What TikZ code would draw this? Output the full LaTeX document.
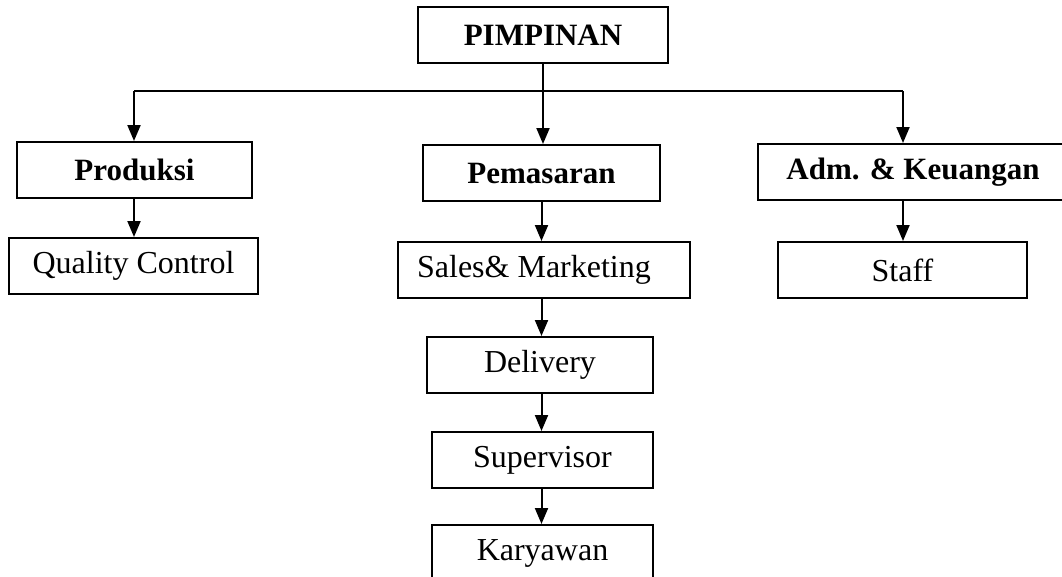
\documentclass[tikz,border=0pt]{standalone}
\usepackage{fontspec}
\setmainfont{Liberation Serif}
\usetikzlibrary{arrows.meta}

\begin{document}
\begin{tikzpicture}[x=1pt,y=-1pt]
    \path[use as bounding box, clip] (0,0) rectangle (1062,576);
    \begin{scope}[every node/.style={draw, line width=2pt, minimum height=56pt, inner sep=0pt, font=\fontsize{32}{38}\selectfont}]
                        \node[minimum width=250pt, font=\fontsize{31}{38}\selectfont\bfseries] (pimpinan) at (543,35) {PIMPINAN};
                        \node[minimum width=235pt, font=\fontsize{31}{38}\selectfont\bfseries] (produksi) at (134.5,170) {Produksi};
                        \node[minimum width=237pt, font=\fontsize{31}{38}\selectfont\bfseries] (pemasaran) at (541.5,173) {Pemasaran};
                        \node[minimum width=310pt, font=\fontsize{31}{38}\selectfont\bfseries] (adm) at (913,172) {Adm. \& Keuangan};
                        \node[minimum width=249pt] (qc) at (133.5,266) {\raisebox{6pt}{Quality Control}};
                        \node[minimum width=292pt] (sales) at (544,270) {\hspace{-20pt}Sales\& Marketing};
                        \node[minimum width=249pt] (staff) at (902.5,270) {Staff};
                        \node[minimum width=226pt] (delivery) at (540,365) {Delivery};
                        \node[minimum width=221pt] (supervisor) at (542.5,460) {Supervisor};
                        \node[minimum width=221pt] (karyawan) at (542.5,553) {Karyawan};
                        \coordinate (lft) at (134,91);
                        \coordinate (rgt) at (903,91);
                \end{scope}

                \begin{scope}[every path/.style={line width=2pt, -{Triangle[length=16pt,width=13pt]}}]
                        \path (pimpinan) edge (pimpinan |- pemasaran.north);
                        \path (lft) edge (lft |- produksi.north);
                        \path (rgt) edge (rgt |- adm.north);
                        \path (lft |- produksi.south) edge (lft |- qc.north);
                        \path (pemasaran) edge (pemasaran |- sales.north);
                        \path (rgt |- adm.south) edge (rgt |- staff.north);
                        \path (pemasaran |- sales.south) edge (pemasaran |- delivery.north);
                        \path (pemasaran |- delivery.south) edge (pemasaran |- supervisor.north);
                        \path (pemasaran |- supervisor.south) edge (pemasaran |- karyawan.north);
                \end{scope}
                \draw[line width=2pt] (lft) -- (rgt);
\end{tikzpicture}
\end{document}
